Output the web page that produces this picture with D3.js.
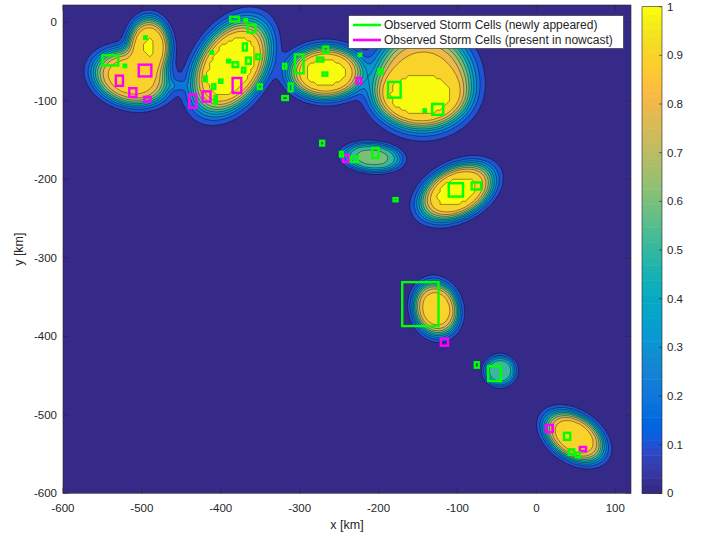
<!DOCTYPE html>
<html>
<head>
<meta charset="utf-8">
<script src="https://cdn.jsdelivr.net/npm/d3@7"></script>
<style>
  body { margin: 0; background: #fff; }
  text { font-family: "Liberation Sans", Helvetica, Arial, sans-serif; fill: #262626; }
</style>
</head>
<body>
<div id="chart"></div>
<script>
// ---- data (km) ----
const xTicks = [-600, -500, -400, -300, -200, -100, 0, 100];
const yTicks = [-600, -500, -400, -300, -200, -100, 0];
const colorTicks = [0, 0.1, 0.2, 0.3, 0.4, 0.5, 0.6, 0.7, 0.8, 0.9, 1];
const levels = [0.1, 0.2, 0.3, 0.4, 0.5, 0.6, 0.7, 0.8, 0.9, 1];

// nowcast probability cells: centre, radii, rotation (deg), peak
const blobX     = [-514, -491, -455, -387, -267, -143, -147, -208, -101, -127, -46,  48];
const blobY     = [ -70,  -32,  -81,  -56,  -64,  -73,  -92, -172, -216, -365, -444, -528];
const blobRx    = [  46,   26,   12,   62,   45,   59,   52,   35,   48,   27,   19,   40];
const blobRy    = [  33,   36,    6,   40,   32,   59,   36,   17,   30,   33,   18,   26];
const blobAngle = [ -15,    0,    0,   58,    0,    0,    0,   -5,   28,   15,    0,  -34];
const blobPeak  = [0.97, 1.01, 0.14,  1.1, 1.05, 0.95, 1.18, 0.63, 1.05, 0.97, 0.58, 0.99];

// observed storm cells [x, y, w, h]
const newCells = [
    [-550, -55, 20, 13], [-523, -57, 3, 3], [-497, -21, 3, 3], [-388, 1, 11, 6],
    [-370, 1, 3, 3], [-366, -13, 10, 10], [-372, -36, 5, 9], [-413, -40, 3, 3],
    [-392, -51, 4, 3], [-385, -57, 7, 6], [-368, -53, 6, 8], [-355, -47, 5, 6],
    [-373, -64, 4, 6], [-421, -75, 3, 6], [-402, -77, 4, 4], [-411, -85, 4, 6],
    [-408, -104, 3, 10], [-353, -85, 5, 6], [-306, -65, 11, 24], [-270, -39, 6, 8],
    [-278, -50, 8, 5], [-271, -68, 6, 4], [-225, -43, 3, 3], [-321, -59, 4, 6],
    [-314, -88, 5, 10], [-322, -99, 7, 5], [-200, -66, 5, 6], [-188, -96, 16, 20],
    [-143, -114, 3, 3], [-132, -118, 14, 14], [-274, -157, 5, 6], [-249, -171, 4, 6],
    [-235, -178, 9, 7], [-208, -173, 8, 13], [-181, -228, 5, 4], [-111, -222, 18, 17],
    [-82, -213, 12, 9], [-170, -387, 46, 56], [-78, -440, 5, 7], [-61, -457, 16, 19],
    [35, -532, 8, 9], [41, -551, 7, 7], [50, -554, 5, 6]
];
const nowcastCells = [
    [-504, -69, 16, 15], [-533, -81, 9, 13], [-516, -95, 9, 11], [-497, -101, 8, 6],
    [-440, -109, 9, 17], [-423, -101, 10, 13], [-385, -90, 11, 19], [-228, -78, 6, 7],
    [-245, -178, 7, 9], [-121, -412, 9, 9], [12, -522, 9, 9], [55, -546, 8, 5]
];
const legendLabels = [
    'Observed Storm Cells (newly appeared)',
    'Observed Storm Cells (present in nowcast)'
];

// MATLAB parula (64)
const parula = [
    [0.2081,0.1663,0.5292],[0.2116,0.1898,0.5777],[0.2123,0.2138,0.6270],[0.2081,0.2386,0.6771],
    [0.1959,0.2645,0.7279],[0.1707,0.2919,0.7792],[0.1253,0.3242,0.8303],[0.0591,0.3598,0.8683],
    [0.0117,0.3875,0.8820],[0.0060,0.4086,0.8828],[0.0165,0.4266,0.8786],[0.0329,0.4430,0.8720],
    [0.0498,0.4586,0.8641],[0.0629,0.4737,0.8554],[0.0723,0.4887,0.8467],[0.0779,0.5040,0.8384],
    [0.0793,0.5200,0.8312],[0.0749,0.5375,0.8263],[0.0641,0.5570,0.8240],[0.0488,0.5772,0.8228],
    [0.0343,0.5966,0.8199],[0.0265,0.6137,0.8135],[0.0239,0.6287,0.8038],[0.0231,0.6418,0.7913],
    [0.0228,0.6535,0.7768],[0.0267,0.6642,0.7607],[0.0384,0.6743,0.7436],[0.0590,0.6838,0.7254],
    [0.0843,0.6928,0.7062],[0.1133,0.7015,0.6859],[0.1453,0.7098,0.6646],[0.1801,0.7177,0.6424],
    [0.2178,0.7250,0.6193],[0.2586,0.7317,0.5954],[0.3022,0.7376,0.5712],[0.3482,0.7424,0.5473],
    [0.3953,0.7459,0.5244],[0.4420,0.7481,0.5033],[0.4871,0.7491,0.4840],[0.5300,0.7491,0.4661],
    [0.5709,0.7485,0.4494],[0.6099,0.7473,0.4337],[0.6473,0.7456,0.4188],[0.6834,0.7435,0.4044],
    [0.7184,0.7411,0.3905],[0.7525,0.7384,0.3768],[0.7858,0.7356,0.3633],[0.8185,0.7327,0.3498],
    [0.8507,0.7299,0.3360],[0.8824,0.7274,0.3217],[0.9139,0.7258,0.3063],[0.9450,0.7261,0.2886],
    [0.9739,0.7314,0.2666],[0.9938,0.7455,0.2403],[0.9990,0.7653,0.2164],[0.9955,0.7861,0.1967],
    [0.9880,0.8066,0.1794],[0.9789,0.8271,0.1633],[0.9697,0.8481,0.1475],[0.9626,0.8705,0.1309],
    [0.9589,0.8949,0.1132],[0.9598,0.9218,0.0948],[0.9661,0.9514,0.0755],[0.9763,0.9831,0.0538]
];
const cmap = v => {
    const c = parula[Math.min(63, Math.floor(v * 64 + 1e-9))];
    return d3.rgb(c[0] * 255, c[1] * 255, c[2] * 255).formatHex();
};

// ---- layout ----
const width = 707, height = 540;
const plot = { left: 63, right: 631, top: 5, bottom: 493.3 };
const cbar = { left: 642, right: 662, top: 6.7, bottom: 493.3 };
const axisColor = '#262626';

const x = d3.scaleLinear().domain([-600, 120]).range([plot.left, plot.right]);
const y = d3.scaleLinear().domain([-600, 22]).range([plot.bottom, plot.top]);
const cScale = d3.scaleLinear().domain([0, 1]).range([cbar.bottom, cbar.top]);

const svg = d3.select('#chart').append('svg')
    .attr('width', width)
    .attr('height', height);
svg.append('rect').attr('width', width).attr('height', height).attr('fill', '#fff');

svg.append('clipPath').attr('id', 'clip')
    .append('rect')
    .attr('x', plot.left).attr('y', plot.top)
    .attr('width', plot.right - plot.left).attr('height', plot.bottom - plot.top);

// ---- probability grid ----
const step = 4;
const xMin = -600, yMax = 22;
const nx = Math.ceil(720 / step), ny = Math.ceil(626 / step);
const K = 7;

function probability(px, py) {
    let q = 1;
    for (let b = 0; b < blobX.length; b++) {
        const a = blobAngle[b] * Math.PI / 180;
        const dx = px - blobX[b], dy = py - blobY[b];
        const u = dx * Math.cos(a) + dy * Math.sin(a);
        const v = -dx * Math.sin(a) + dy * Math.cos(a);
        const d = Math.hypot(u / blobRx[b], v / blobRy[b]);
        const f = Math.min(1, blobPeak[b] / (1 + Math.exp(K * (d - 1))));
        q *= (1 - f);
    }
    return 1 - q;
}

const grid = new Array(nx * ny);
for (let j = 0; j < ny; j++) {
    for (let i = 0; i < nx; i++) {
        grid[i + j * nx] = probability(xMin + (i + 0.5) * step, yMax - (j + 0.5) * step);
    }
}

const contours = d3.contours().size([nx, ny]).thresholds(levels)(grid);
const path = d3.geoPath(d3.geoTransform({
    point: function (gx, gy) {
        this.stream.point(x(xMin + gx * step), y(yMax - gy * step));
    }
}));

const main = svg.append('g').attr('clip-path', 'url(#clip)');
main.append('rect')
    .attr('x', plot.left).attr('y', plot.top)
    .attr('width', plot.right - plot.left).attr('height', plot.bottom - plot.top)
    .attr('fill', cmap(0));

main.selectAll('path.band')
    .data(contours)
    .join('path')
    .attr('class', 'band')
    .attr('d', path)
    .attr('fill', d => cmap(d.value))
    .attr('stroke', '#000')
    .attr('stroke-opacity', 0.8)
    .attr('stroke-width', 0.5);

// ---- storm cells ----
function drawCells(cells, color) {
    main.append('g').selectAll('rect')
        .data(cells)
        .join('rect')
        .attr('x', d => x(d[0]))
        .attr('y', d => y(d[1] + d[3]))
        .attr('width', d => x(d[0] + d[2]) - x(d[0]))
        .attr('height', d => y(d[1]) - y(d[1] + d[3]))
        .attr('fill', 'none')
        .attr('stroke', color)
        .attr('stroke-width', 2.4);
}
drawCells(nowcastCells, '#ff00ff');
drawCells(newCells, '#00ff00');

// ---- axes box & ticks ----
const axes = svg.append('g');
axes.append('rect')
    .attr('x', plot.left).attr('y', plot.top)
    .attr('width', plot.right - plot.left).attr('height', plot.bottom - plot.top)
    .attr('fill', 'none').attr('stroke', axisColor).attr('stroke-width', 0.6);

const tl = 5.7;
axes.selectAll('line.xt')
    .data(xTicks.flatMap(t => [[t, plot.bottom, -tl], [t, plot.top, tl]]))
    .join('line')
    .attr('x1', d => x(d[0])).attr('x2', d => x(d[0]))
    .attr('y1', d => d[1]).attr('y2', d => d[1] + d[2])
    .attr('stroke', axisColor).attr('stroke-width', 0.6);
axes.selectAll('line.yt')
    .data(yTicks.flatMap(t => [[t, plot.left, tl], [t, plot.right, -tl]]))
    .join('line')
    .attr('y1', d => y(d[0])).attr('y2', d => y(d[0]))
    .attr('x1', d => d[1]).attr('x2', d => d[1] + d[2])
    .attr('stroke', axisColor).attr('stroke-width', 0.6);

axes.selectAll('text.xl')
    .data(xTicks)
    .join('text')
    .attr('x', d => x(d))
    .attr('y', plot.bottom + 19)
    .attr('text-anchor', 'middle')
    .style('font-size', '11.5px')
    .text(d => d);
axes.selectAll('text.yl')
    .data(yTicks)
    .join('text')
    .attr('x', plot.left - 6)
    .attr('y', d => y(d) + 4)
    .attr('text-anchor', 'end')
    .style('font-size', '11.5px')
    .text(d => d);

axes.append('text')
    .attr('x', (plot.left + plot.right) / 2)
    .attr('y', 529)
    .attr('text-anchor', 'middle')
    .style('font-size', '12.5px')
    .text('x [km]');
axes.append('text')
    .attr('transform', `translate(23,${(plot.top + plot.bottom) / 2}) rotate(-90)`)
    .attr('text-anchor', 'middle')
    .style('font-size', '12.5px')
    .text('y [km]');

// ---- legend ----
const legend = svg.append('g');
legend.append('rect')
    .attr('x', 348.5).attr('y', 15.5)
    .attr('width', 275).attr('height', 33)
    .attr('fill', '#fff').attr('stroke', axisColor).attr('stroke-width', 0.6);
const legendColors = ['#00ff00', '#ff00ff'];
legendLabels.forEach((label, i) => {
    const ly = 25 + i * 15;
    legend.append('line')
        .attr('x1', 353).attr('x2', 381)
        .attr('y1', ly).attr('y2', ly)
        .attr('stroke', legendColors[i]).attr('stroke-width', 2.6);
    legend.append('text')
        .attr('x', 384).attr('y', ly + 4.3)
        .style('font-size', '12px')
        .text(label);
});

// ---- colorbar ----
const cb = svg.append('g');
const nColors = parula.length;
cb.selectAll('rect.sw')
    .data(d3.range(nColors))
    .join('rect')
    .attr('x', cbar.left)
    .attr('y', i => cScale((i + 1) / nColors))
    .attr('width', cbar.right - cbar.left)
    .attr('height', i => cScale(i / nColors) - cScale((i + 1) / nColors) + 0.5)
    .attr('fill', i => cmap(i / nColors));
cb.append('rect')
    .attr('x', cbar.left).attr('y', cbar.top)
    .attr('width', cbar.right - cbar.left).attr('height', cbar.bottom - cbar.top)
    .attr('fill', 'none').attr('stroke', axisColor).attr('stroke-width', 0.6);
cb.selectAll('line.ct')
    .data(colorTicks)
    .join('line')
    .attr('x1', cbar.right - 3).attr('x2', cbar.right)
    .attr('y1', d => cScale(d)).attr('y2', d => cScale(d))
    .attr('stroke', axisColor).attr('stroke-width', 0.6);
cb.selectAll('text')
    .data(colorTicks)
    .join('text')
    .attr('x', cbar.right + 5)
    .attr('y', d => cScale(d) + 4)
    .style('font-size', '11.5px')
    .text(d => d);
</script>
</body>
</html>
